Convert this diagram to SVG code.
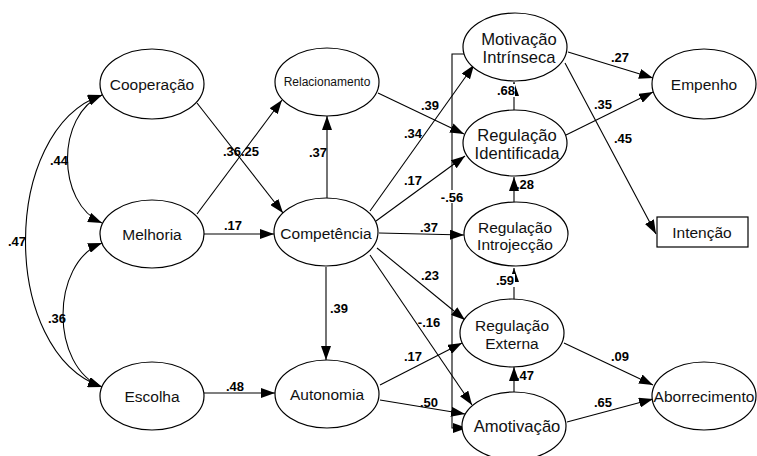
<svg xmlns="http://www.w3.org/2000/svg" width="757" height="456" viewBox="0 0 757 456">
<defs>
<marker id="ah" markerUnits="userSpaceOnUse" markerWidth="14" markerHeight="10" refX="14" refY="5" orient="auto-start-reverse" viewBox="0 0 14 10">
<path d="M0,0 L14,5 L0,10 z" fill="#000"/>
</marker>
<style>
.n ellipse, .n rect { fill: #fff; stroke: #000; stroke-width: 1.2; }
.n text { font-family: "Liberation Sans", Arial, sans-serif; font-size: 15.5px; fill: #111; text-anchor: middle; }
.n text.big { font-size: 16.6px; }
.n text.sm { font-size: 12px; }
.c path, .c line { fill: none; stroke: #000; stroke-width: 1.1; }
.c .a { marker-end: url(#ah); }
.c .b { marker-start: url(#ah); marker-end: url(#ah); }
.l text { font-family: "Liberation Sans", Arial, sans-serif; font-size: 13px; font-weight: bold; fill: #000; text-anchor: middle; }
.l rect { fill: #fff; stroke: none; }
</style>
</defs>
<rect width="757" height="456" fill="#fff"/>

<g class="c" id="connectors">
<path class="b" d="M102,95 C56,115 56,203 102,223"/>
<path class="b" d="M102,243 C50,263 50,367 102,387"/>
<path class="b" d="M102,95 C0,130 0,352 102,387"/>
<line class="a" x1="197" y1="103" x2="283" y2="213"/>
<line class="a" x1="197" y1="214" x2="282" y2="100"/>
<line class="a" x1="204" y1="234" x2="274" y2="234"/>
<line class="a" x1="204" y1="393" x2="275" y2="393"/>
<line class="a" x1="327" y1="198" x2="327" y2="116"/>
<line class="a" x1="326" y1="267" x2="326" y2="360"/>
<line class="a" x1="370" y1="211" x2="474" y2="65"/>
<line class="a" x1="376" y1="221" x2="465" y2="156"/>
<line class="a" x1="378" y1="93" x2="464" y2="134"/>
<line class="a" x1="379" y1="233" x2="464" y2="235"/>
<line class="a" x1="377" y1="248" x2="465" y2="320"/>
<line class="a" x1="370" y1="255" x2="472" y2="405"/>
<line class="a" x1="380" y1="385" x2="462" y2="343"/>
<line class="a" x1="380" y1="400" x2="465" y2="414"/>
<path class="a" d="M465,54 L452,54 L452,428 L467,428"/>
<line class="a" x1="514" y1="110" x2="514" y2="82"/>
<line class="a" x1="514" y1="202" x2="514" y2="177"/>
<line class="a" x1="514" y1="300" x2="514" y2="268"/>
<line class="a" x1="514" y1="392" x2="514" y2="367"/>
<line class="a" x1="568" y1="52" x2="653" y2="78"/>
<line class="a" x1="566" y1="135" x2="653" y2="92"/>
<line class="a" x1="565" y1="63" x2="656" y2="234"/>
<line class="a" x1="564" y1="343" x2="653" y2="385"/>
<line class="a" x1="567" y1="422" x2="653" y2="399"/>
</g>

<g class="n" id="cooperacao"><ellipse cx="152" cy="84" rx="52" ry="35"/><text x="152" y="89.5">Cooperação</text></g>
<g class="n" id="melhoria"><ellipse cx="152" cy="234" rx="52" ry="34"/><text x="152" y="239.5">Melhoria</text></g>
<g class="n" id="escolha"><ellipse cx="152" cy="396" rx="52" ry="34"/><text x="152" y="401.5">Escolha</text></g>
<g class="n" id="relacionamento"><ellipse cx="327" cy="82" rx="52" ry="34"/><text class="sm" x="327" y="86">Relacionamento</text></g>
<g class="n" id="competencia"><ellipse cx="326" cy="232" rx="52" ry="34"/><text x="326" y="239">Competência</text></g>
<g class="n" id="autonomia"><ellipse cx="327" cy="394" rx="52" ry="34"/><text x="327" y="399.5">Autonomia</text></g>
<g class="n" id="motivacao-intrinseca"><ellipse cx="515" cy="47" rx="52" ry="34"/><text class="big" x="519" y="45">Motivação</text><text class="big" x="519" y="63">Intrínseca</text></g>
<g class="n" id="regulacao-identificada"><ellipse cx="515" cy="143" rx="52" ry="33"/><text class="big" x="517" y="141">Regulação</text><text class="big" x="517" y="159">Identificada</text></g>
<g class="n" id="regulacao-introjeccao"><ellipse cx="516" cy="234" rx="52" ry="32"/><text x="515" y="233">Regulação</text><text x="515" y="250">Introjecção</text></g>
<g class="n" id="regulacao-externa"><ellipse cx="512" cy="333" rx="52" ry="34"/><text x="512" y="331">Regulação</text><text x="512" y="349">Externa</text></g>
<g class="n" id="amotivacao"><ellipse cx="514" cy="426" rx="52" ry="34"/><text class="big" x="517" y="432">Amotivação</text></g>
<g class="n" id="empenho"><ellipse cx="704" cy="84" rx="52" ry="35"/><text x="704" y="89.5">Empenho</text></g>
<g class="n" id="aborrecimento"><ellipse cx="704" cy="396" rx="52" ry="34"/><text x="704" y="401.5">Aborrecimento</text></g>
<g class="n" id="intencao"><rect x="657" y="217" width="91" height="30"/><text x="702" y="237.5">Intenção</text></g>

<g class="l" id="labels">
<text x="59" y="164.5">.44</text>
<text x="17" y="245.5">.47</text>
<text x="57" y="322.5">.36</text>
<text x="232" y="156">.36</text>
<text x="250" y="156">.25</text>
<text x="233" y="229.5">.17</text>
<text x="235" y="391">.48</text>
<text x="318" y="156.5">.37</text>
<text x="339" y="312.5">.39</text>
<text x="413" y="137.5">.34</text>
<text x="430" y="109.5">.39</text>
<text x="413" y="184.5">.17</text>
<text x="429" y="231.5">.37</text>
<text x="430" y="279.5">.23</text>
<text x="429" y="326.5">-.16</text>
<text x="413" y="360.5">.17</text>
<text x="429" y="406.5">.50</text>
<rect x="442" y="190" width="21" height="13"/>
<text x="452" y="201.5">-.56</text>
<rect x="496" y="84" width="19" height="13"/>
<text x="506" y="94.5">.68</text>
<text x="525" y="189">.28</text>
<rect x="496" y="274" width="19" height="13"/>
<text x="505" y="284.5">.59</text>
<text x="525" y="379.5">.47</text>
<text x="620" y="61.5">.27</text>
<text x="603" y="108.5">.35</text>
<text x="623" y="142.5">.45</text>
<text x="620" y="360.5">.09</text>
<text x="603" y="406.5">.65</text>
</g>
</svg>
